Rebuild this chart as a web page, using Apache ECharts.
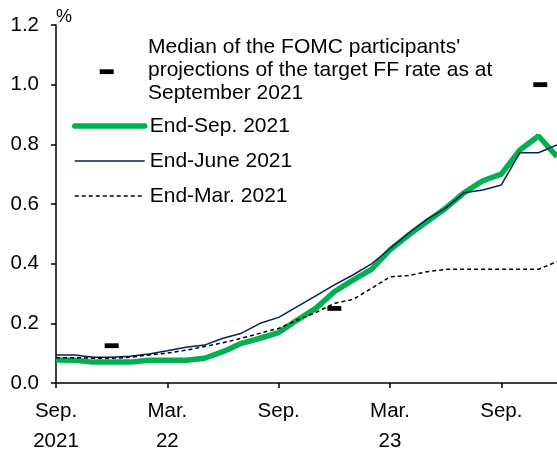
<!DOCTYPE html>
<html lang="en">
<head>
<meta charset="UTF-8">
<title>Target FF rate implied by futures</title>
<script src="https://cdn.jsdelivr.net/npm/echarts@6/dist/echarts.min.js"></script>
<style>html,body{margin:0;padding:0;background:#fff;}</style>
</head>
<body>
<div id="main" style="width:557px;height:450px;"></div>
<script type="text/javascript">
// month index: 0 = Sep. 2021 ... 27 = Dec. 2023
const months = [0, 1, 2, 3, 4, 5, 6, 7, 8, 9, 10, 11, 12, 13, 14, 15, 16, 17, 18, 19, 20, 21, 22, 23, 24, 25, 26, 27];
const tickPos = [0, 6, 12, 18, 24];
const tickLabels = ['Sep.\n2021', 'Mar.\n22', 'Sep.', 'Mar.\n23', 'Sep.'];

const seriesNames = ['End-Sep. 2021', 'End-June 2021', 'End-Mar. 2021'];
const endSep = [0.077, 0.076, 0.070, 0.070, 0.070, 0.076, 0.076, 0.076, 0.083, 0.105, 0.133, 0.150, 0.169, 0.211,
    0.250, 0.306, 0.345, 0.381, 0.446, 0.496, 0.541, 0.586, 0.638, 0.678, 0.700, 0.781, 0.828, 0.759];
const endJune = [0.094, 0.094, 0.086, 0.086, 0.090, 0.097, 0.108, 0.120, 0.127, 0.150, 0.167, 0.200, 0.220, 0.256,
    0.292, 0.329, 0.362, 0.399, 0.451, 0.502, 0.549, 0.586, 0.638, 0.647, 0.664, 0.772, 0.772, 0.798];
const endMar = [0.085, 0.085, 0.083, 0.083, 0.086, 0.094, 0.100, 0.110, 0.122, 0.135, 0.150, 0.167, 0.183, 0.211,
    0.236, 0.267, 0.280, 0.317, 0.356, 0.360, 0.373, 0.381, 0.381, 0.381, 0.381, 0.381, 0.381, 0.407];

const medianName = "Median of the FOMC participants'\nprojections of the target FF rate as at\nSeptember 2021";
const medianX = [3, 15, 26.1];
const medianY = [0.125, 0.25, 1.0];

const FONT = '"Liberation Sans", Arial, sans-serif';
const pair = (ys) => months.map((m, i) => [m, ys[i]]);

const myChart = echarts.init(document.getElementById('main'));

const option = {
    animation: false,
    textStyle: { fontFamily: FONT, color: '#000' },
    grid: { left: 56, right: 0, top: 25, bottom: 67, containLabel: false, outerBoundsMode: 'none' },
    xAxis: {
        type: 'value',
        min: 0,
        max: 27,
        interval: 6,
        splitLine: { show: false },
        axisLine: { lineStyle: { color: '#000', width: 1.5 } },
        axisTick: { length: 5, customValues: tickPos, lineStyle: { color: '#000', width: 1.5 } },
        axisLabel: {
            customValues: tickPos,
            margin: 13,
            fontSize: 20.5,
            lineHeight: 30,
            color: '#000',
            fontFamily: FONT,
            formatter: (v) => {
                const k = tickPos.indexOf(v);
                return k < 0 ? '' : tickLabels[k];
            }
        }
    },
    yAxis: {
        type: 'value',
        min: 0,
        max: 1.2,
        interval: 0.2,
        name: '%',
        nameLocation: 'end',
        nameGap: 8,
        nameTextStyle: { fontSize: 18, color: '#000', align: 'left', verticalAlign: 'middle', fontFamily: FONT },
        splitLine: { show: false },
        axisLine: { show: true, lineStyle: { color: '#000', width: 1.5 } },
        axisTick: { show: true, length: 5, lineStyle: { color: '#000', width: 1.5 } },
        axisLabel: {
            margin: 17,
            fontSize: 20.5,
            color: '#000',
            fontFamily: FONT,
            formatter: (v) => v.toFixed(1)
        }
    },
    legend: {
        orient: 'vertical',
        left: 72,
        top: 114,
        padding: 0,
        itemWidth: 70,
        itemHeight: 24,
        itemGap: 11,
        selectedMode: false,
        textStyle: { fontSize: 21, lineHeight: 24, color: '#000', fontFamily: FONT },
        itemStyle: { opacity: 0 },
        lineStyle: { width: 'inherit' },
        data: [
            { name: seriesNames[0], lineStyle: { cap: 'round' } },
            { name: seriesNames[1] },
            { name: seriesNames[2] }
        ]
    },
    graphic: [
        {
            type: 'rect',
            shape: { x: 99.7, y: 69.3, width: 14, height: 4.8 },
            style: { fill: '#000' }
        },
        {
            type: 'text',
            left: 148,
            top: 35.5,
            style: { text: medianName, font: '21px ' + FONT, lineHeight: 23, fill: '#000' }
        }
    ],
    series: [
        {
            name: seriesNames[0],
            type: 'line',
            symbol: 'none',
            z: 2,
            data: pair(endSep),
            lineStyle: { color: '#00B050', width: 5.5 },
            itemStyle: { color: '#00B050' }
        },
        {
            name: seriesNames[1],
            type: 'line',
            symbol: 'none',
            z: 3,
            data: pair(endJune),
            lineStyle: { color: '#002060', width: 1.5 },
            itemStyle: { color: '#002060' }
        },
        {
            name: seriesNames[2],
            type: 'line',
            symbol: 'none',
            z: 4,
            data: pair(endMar),
            lineStyle: { color: '#000', width: 1.5, type: [4, 3] },
            itemStyle: { color: '#000' }
        },
        {
            name: 'Median',
            type: 'scatter',
            z: 5,
            symbol: 'rect',
            symbolSize: [14, 4.8],
            itemStyle: { color: '#000', opacity: 1 },
            emphasis: { disabled: true },
            data: medianX.map((x, i) => [x, medianY[i]])
        }
    ]
};

myChart.setOption(option);
</script>
</body>
</html>
